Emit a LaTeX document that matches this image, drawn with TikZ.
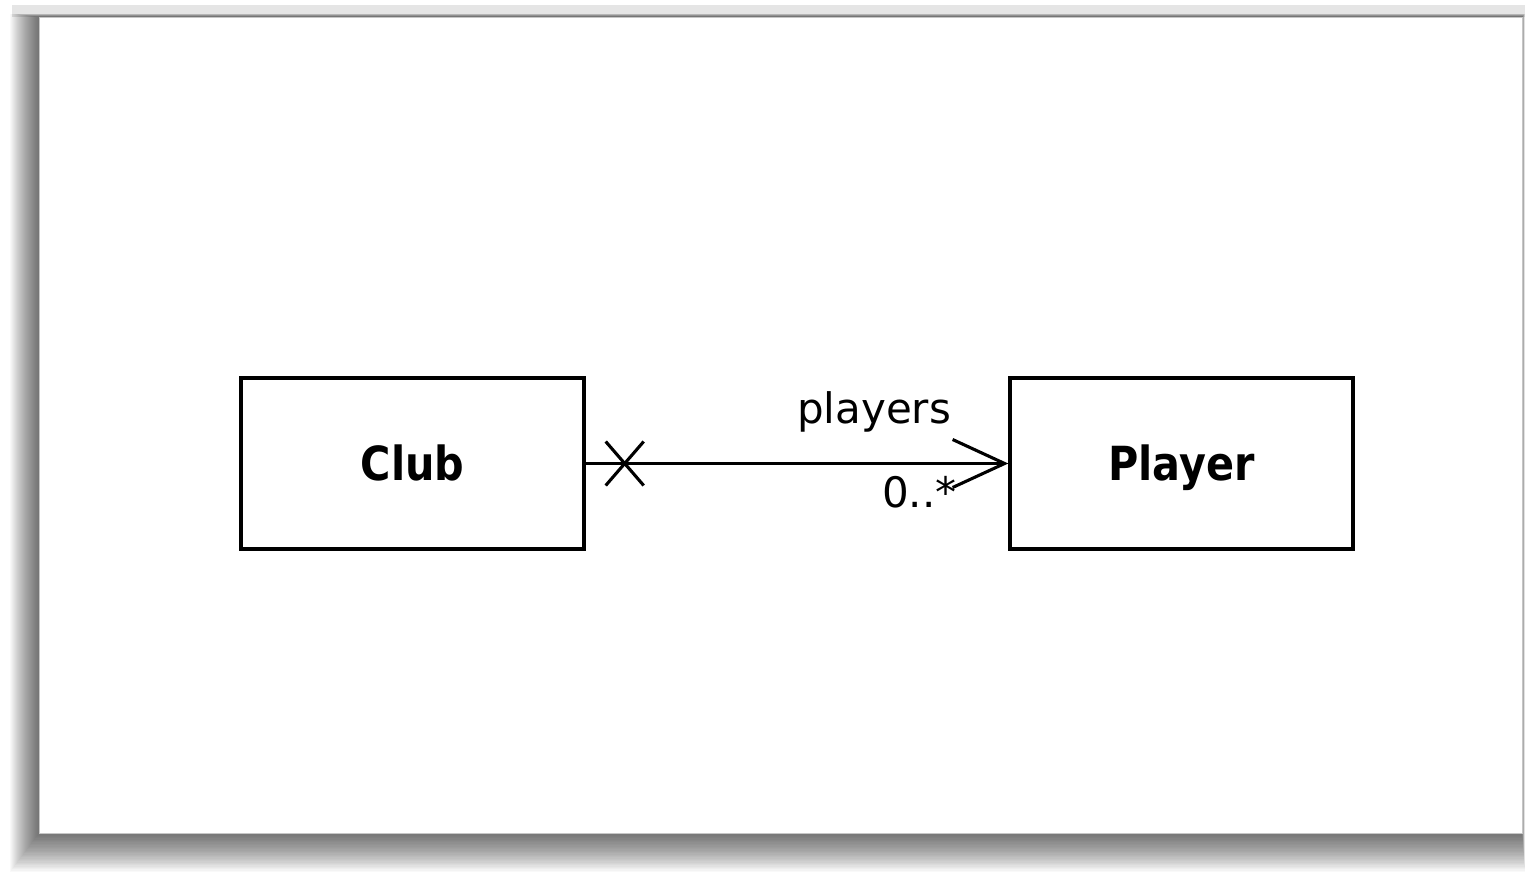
\documentclass[tikz,border=0pt]{standalone}
\usepackage{fontspec}
\setmainfont{DejaVu Sans}
\newfontfamily\classfont{DejaVu Sans Bold}[FakeStretch=0.88]
\usetikzlibrary{arrows.meta,calc}

\begin{document}
\begin{tikzpicture}[x=1pt,y=-1pt,
  classbox/.style={draw=black, line width=3.4pt, fill=white,
    minimum width=343pt, minimum height=171pt, inner sep=0pt,
    text height=34pt, text depth=0pt,
    font=\classfont\fontsize{47}{56}\selectfont},
  assoc/.style={line width=3.1pt, -{Straight Barb[length=52pt,width=48pt]}},
  endlabel/.style={inner sep=0pt, anchor=base west,
    font=\fontsize{42}{50}\selectfont},
  navmark/.style={line width=3.1pt},
]
\useasboundingbox (0,0) rectangle (1525,872);
\fill[white] (0,0) rectangle (1525,872);

% soft drop shadow under the sheet
\fill[black, opacity=0.1] (12,5) rectangle (1525,17);
\foreach \i in {1,...,29} {
  \fill[black, opacity=0.023] (39-\i, 17-0.12*\i) rectangle (1522+0.1*\i, 833+1.35*\i);
}
\fill[white] (39,17) rectangle (1522,833);
\draw[gray!45, line width=0.8pt] (39,17) rectangle (1522,833);

% classes
\node[classbox] (club) at (412.5,463.5) {Club};
\node[classbox] (player) at (1181.5,463.5) {Player};

% directed association, not navigable from the player side
\draw[assoc] (club.east) -- (player.west);
\coordinate (nav) at ($(club.east)+(39,0)$);
\draw[navmark] ($(nav)+(-19,-22)$) -- ($(nav)+(19,22)$);
\draw[navmark] ($(nav)+(-19,22)$) -- ($(nav)+(19,-22)$);

% association end labels
\node[endlabel] (role) at (797,423) {players};
\node[endlabel] (mult) at (882,507) {0..*};
\end{tikzpicture}
\end{document}
